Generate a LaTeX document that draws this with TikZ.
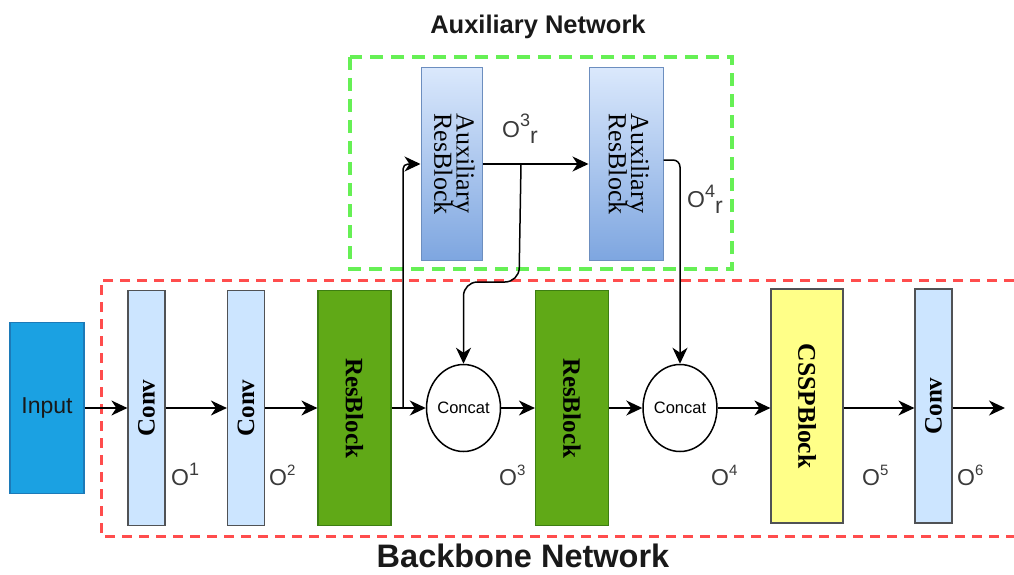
\documentclass[tikz,border=0pt]{standalone}
\usepackage{fontspec}
\setmainfont{Liberation Sans}
\newfontfamily\serifff{Liberation Serif}
\usetikzlibrary{arrows.meta,shapes.geometric}
\definecolor{inblue}{HTML}{1BA1E2}
\definecolor{inborder}{HTML}{1C7AB8}
\definecolor{convfill}{HTML}{CCE5FF}
\definecolor{boxborder}{HTML}{505255}
\definecolor{resgreen}{HTML}{60A917}
\definecolor{resborder}{HTML}{3D7E12}
\definecolor{csspfill}{HTML}{FFFF88}
\definecolor{auxtop}{HTML}{DAE8FC}
\definecolor{auxbot}{HTML}{7EA6E0}
\definecolor{auxborder}{HTML}{6C8EBF}
\definecolor{dashred}{HTML}{FF4D4D}
\definecolor{dashgreen}{HTML}{66F055}
\definecolor{lblgray}{HTML}{3A3A3A}
\begin{document}
\begin{tikzpicture}[x=1pt,y=-1pt,
  arr/.style={line width=1.5pt,-{Stealth[length=16pt,width=15pt,inset=5pt]}},
  convbox/.style={draw=boxborder,line width=1.2pt,fill=convfill,minimum width=37pt,minimum height=235pt,inner sep=0pt,
     font=\serifff\bfseries\fontsize{25}{25}\selectfont},
  resbox/.style={draw=resborder,line width=1.2pt,fill=resgreen,minimum width=73pt,minimum height=235pt,inner sep=0pt,
     font=\serifff\bfseries\fontsize{25}{25}\selectfont},
  csspbox/.style={draw=boxborder,line width=1.2pt,fill=csspfill,minimum width=72pt,minimum height=234pt,inner sep=0pt,
     font=\serifff\bfseries\fontsize{25.5}{25.5}\selectfont},
  auxbox/.style={draw=auxborder,line width=1pt,top color=auxtop,bottom color=auxbot,minimum height=192pt,inner sep=0pt,
     font=\serifff\fontsize{26}{20}\selectfont},
  catnode/.style={draw,line width=1.5pt,ellipse,minimum width=72pt,minimum height=87pt,inner sep=0pt,
     font=\fontsize{16.5}{16.5}\selectfont},
  olabel/.style={text=lblgray,font=\fontsize{23}{23}\selectfont,inner sep=0pt},
  title/.style={text=black!90,inner sep=0pt}
]
\useasboundingbox (0,0) rectangle (1014,575);

% dashed regions
\draw[dashred,line width=3pt,dash pattern=on 10pt off 7pt] (1014,280) -- (101,280) -- (101,536) -- (1014,536);
\draw[dashgreen,line width=4pt,dash pattern=on 13pt off 8pt] (350,57) rectangle (732,269);

% titles
\node[title,font=\bfseries\fontsize{25.5}{25.5}\selectfont] (auxtitle) at (538,27) {Auxiliary Network};
\node[title,font=\bfseries\fontsize{32.5}{32.5}\selectfont] (bbtitle) at (523,556) {Backbone Network};

% backbone nodes
\node[draw=inborder,line width=1.2pt,fill=inblue,minimum width=74pt,minimum height=171pt,inner sep=0pt,
      font=\fontsize{23}{23}\selectfont,text=black!90] (in) at (47,408) {Input};
\node[convbox] (c1) at (146.5,408) {\rotatebox{90}{Conv}};
\node[convbox] (c2) at (246,408) {\rotatebox{90}{Conv}};
\node[resbox] (r1) at (354.5,408) {\rotatebox{-90}{ResBlock}};
\node[catnode] (cat1) at (463.5,408) {Concat};
\node[resbox] (r2) at (572,408) {\rotatebox{-90}{ResBlock}};
\node[catnode] (cat2) at (680,408) {Concat};
\node[csspbox] (cssp) at (807,406) {\rotatebox{-90}{CSSPBlock}};
\node[convbox,minimum height=234pt] (c3) at (933.5,406) {\rotatebox{90}{Conv}};
\coordinate (out) at (1005,408);

% auxiliary nodes
\node[auxbox,minimum width=61pt] (a1) at (451.5,164) {\rotatebox{-90}{\begin{tabular}{@{}l@{}}Auxiliary\\[-2pt]ResBlock\end{tabular}}};
\node[auxbox,minimum width=74pt] (a2) at (626,164) {\rotatebox{-90}{\begin{tabular}{@{}l@{}}Auxiliary\\[-2pt]ResBlock\end{tabular}}};

% main connectors
\draw[arr] (in.east |- 0,408) -- (c1.west |- 0,408);
\draw[arr] (c1.east |- 0,408) -- (c2.west |- 0,408);
\draw[arr] (c2.east |- 0,408) -- (r1.west |- 0,408);
\draw[arr] (r1.east |- 0,408) -- (cat1.west);
\draw[arr] (cat1.east) -- (r2.west |- 0,408);
\draw[arr] (r2.east |- 0,408) -- (cat2.west);
\draw[arr] (cat2.east) -- (cssp.west |- 0,408);
\draw[arr] (cssp.east |- 0,408) -- (c3.west |- 0,408);
\draw[arr] (c3.east |- 0,408) -- (out);

% auxiliary connectors
\coordinate (br1) at (403,408);
\draw[arr,rounded corners=5pt] (br1) |- (a1.west);
\draw[arr] (a1.east) -- (a2.west);
\coordinate (br2) at (521,164);
\draw[arr,rounded corners=14pt] (br2) -- (519,282) -| (cat1.north);
\draw[arr,rounded corners=7pt] (a2.east |- 0,160) -| (cat2.north);

% output labels
\node[olabel,anchor=base west] (o1) at (171,485) {O\raisebox{10pt}{\fontsize{18}{18}\selectfont 1}};
\node[olabel,anchor=base west] (o2) at (269,485) {O\raisebox{10pt}{\fontsize{15}{15}\selectfont 2}};
\node[olabel,anchor=base west] (o3) at (499,485) {O\raisebox{10pt}{\fontsize{15}{15}\selectfont 3}};
\node[olabel,anchor=base west] (o4) at (711,485) {O\raisebox{10pt}{\fontsize{15}{15}\selectfont 4}};
\node[olabel,anchor=base west] (o5) at (862,485) {O\raisebox{10pt}{\fontsize{15}{15}\selectfont 5}};
\node[olabel,anchor=base west] (o6) at (957,485) {O\raisebox{10pt}{\fontsize{15}{15}\selectfont 6}};
\node[olabel,anchor=base west] (o3r) at (502,137) {O\raisebox{10pt}{\fontsize{18}{18}\selectfont 3}\raisebox{-6pt}{r}};
\node[olabel,anchor=base west] (o4r) at (687,207) {O\raisebox{10pt}{\fontsize{18}{18}\selectfont 4}\raisebox{-6pt}{r}};
\end{tikzpicture}
\end{document}
